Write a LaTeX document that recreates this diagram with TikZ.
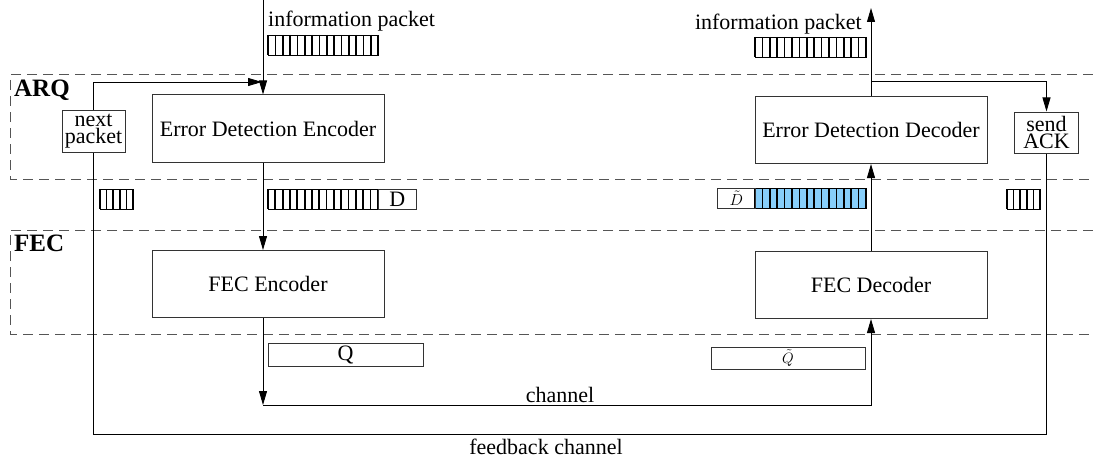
\documentclass[tikz,border=0pt]{standalone}
\usepackage{fix-cm}
\usepackage{fontspec}
\setmainfont{Liberation Serif}
\usetikzlibrary{arrows.meta}
\definecolor{pktblue}{RGB}{135,206,250}
\definecolor{dashgray}{RGB}{85,85,85}
\newcommand\pktstripes[5]{%
  \fill[#5] (#1,#2) rectangle ({#1+#3*#4},{#2+20});
  \foreach \i in {0,...,#3} \draw[line width=1.7pt] ({#1+\i*#4},#2) -- ({#1+\i*#4},{#2+20});
  \draw[line width=0.8pt] (#1,#2) rectangle ({#1+#3*#4},{#2+20});
}
\begin{document}
\begin{tikzpicture}[x=1pt,y=-1pt,
  blk/.style={draw=black!80, line width=1pt, minimum width=232pt, minimum height=67pt, font=\fontsize{22}{24}\selectfont, inner sep=0pt},
  smallbox/.style={draw=black!80, line width=1pt, align=center, font=\fontsize{22}{17}\selectfont, inner sep=1pt},
  cell/.style={draw=black!80, line width=0.8pt, inner sep=0pt, anchor=north west, minimum height=20pt},
  conn/.style={line width=0.9pt},
  arr/.style={conn, -{Triangle[length=14pt,width=8pt]}},
  zone/.style={dashgray, dash pattern=on 10pt off 6pt, line width=1pt},
  lbl/.style={font=\fontsize{22}{24}\selectfont, inner sep=0pt},
  zonelbl/.style={font=\bfseries\fontsize{25}{27}\selectfont, inner sep=0pt, anchor=west}
]
\useasboundingbox (0,0) rectangle (1093,460);

% zones
\draw[zone] (1093,75) -- (10,75) -- (10,179) -- (1093,179);
\draw[zone] (1093,230) -- (10,230) -- (10,334) -- (1093,334);
\node[zonelbl] (arq) at (14,90) {ARQ};
\node[zonelbl] (fec) at (14,243) {FEC};

% blocks
\node[blk] (ede) at (268,128.5) {Error Detection Encoder};
\node[blk] (edd) at (871,130) {Error Detection Decoder};
\node[blk] (fece) at (268,284) {FEC Encoder};
\node[blk] (fecd) at (871,285) {FEC Decoder};
\node[smallbox, minimum width=63pt, minimum height=42pt] (nxt) at (93.5,131) {next\\packet};
\node[smallbox, minimum width=64pt, minimum height=41pt] (ack) at (1046.5,132.5) {send\\ACK};

% coordinates
\coordinate (intop) at (263,0);
\coordinate (loopend) at (262,82);
\coordinate (chL) at (263,405);
\coordinate (chR) at (871,405);
\coordinate (outtop) at (871,8);
\coordinate (br) at (871,81);
\coordinate (fbL) at (93.5,434);

% connectors
\draw[arr] (intop) -- (intop |- ede.north);
\draw[arr] (nxt.north) |- (loopend);
\draw[arr] (ede.south -| intop) -- (fece.north -| intop);
\draw[arr] (fece.south -| intop) -- (chL);
\draw[arr] (chL) -- (chR) -- (fecd.south);
\draw[arr] (fecd.north) -- (edd.south);
\draw[arr] (edd.north) -- (outtop);
\draw[arr] (br) -| (ack.north);
\draw[conn] (ack.south) |- (fbL) -- (nxt.south);

% labels
\node[lbl, anchor=west] (inlbl) at (268,21) {information packet};
\node[lbl, anchor=east] (outlbl) at (862,24) {information packet};
\node[lbl] (chlbl) at (560,395) {channel};
\node[lbl] (fblbl) at (546,447) {feedback channel};

% packets
\pktstripes{268}{35}{15}{7.35}{white}
\pktstripes{755}{37}{15}{7.4}{white}
\pktstripes{268}{189}{15}{7.33}{white}
\node[cell, minimum width=38pt, font=\fontsize{22}{24}\selectfont] (dcell) at (378,189) {D};
\pktstripes{100}{189}{5}{6.6}{white}
\pktstripes{755}{188}{15}{7.4}{pktblue}
\node[cell, minimum width=38pt, font=\fontsize{16}{18}\selectfont] (dtcell) at (717,188) {$\tilde D$};
\pktstripes{1007}{189}{5}{6.6}{white}
\node[draw=black!80, line width=1pt, minimum width=155pt, minimum height=23pt, inner sep=0pt, font=\fontsize{22}{24}\selectfont] (qbox) at (345.5,354.5) {Q};
\node[draw=black!80, line width=1pt, minimum width=154pt, minimum height=22pt, inner sep=0pt, font=\fontsize{15}{17}\selectfont] (qtbox) at (788,358) {$\tilde Q$};
\end{tikzpicture}
\end{document}
